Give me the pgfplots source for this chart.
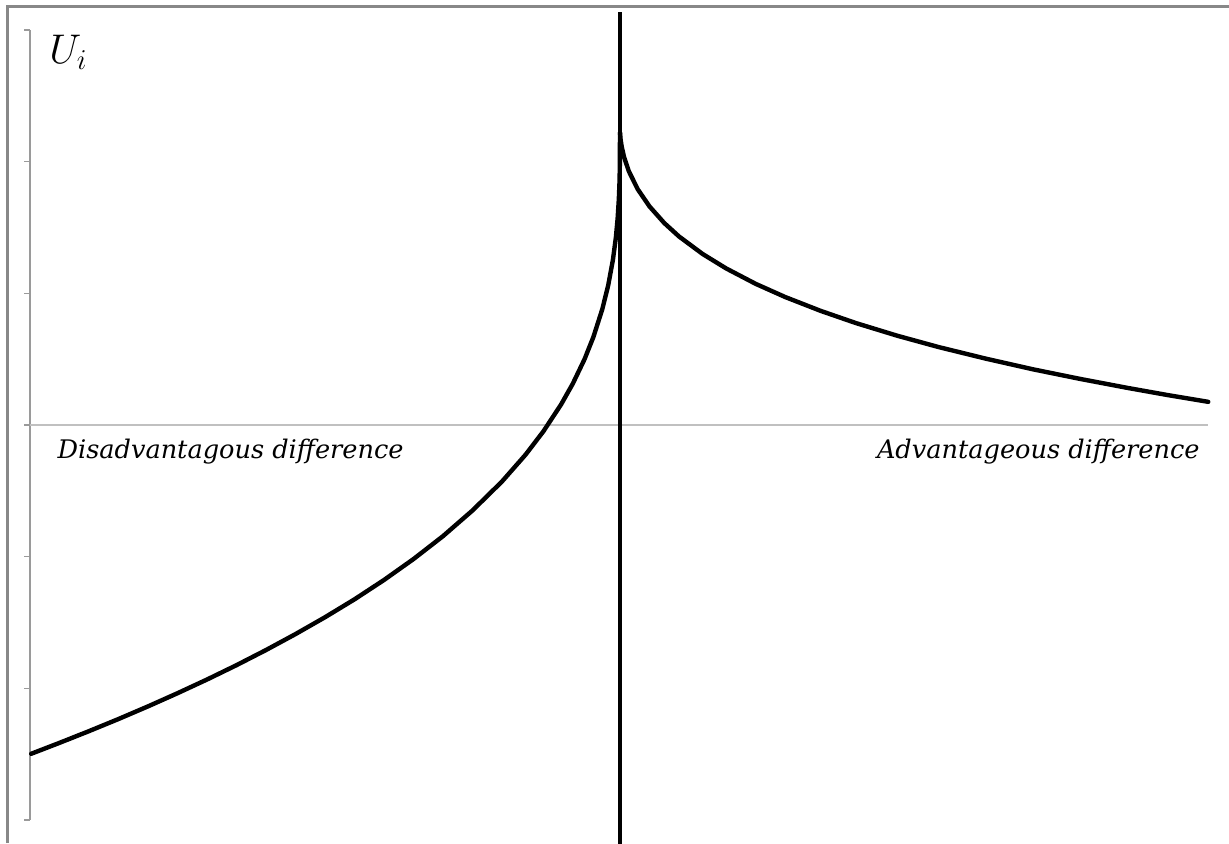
\documentclass[border=0pt]{standalone}
\usepackage{fontspec}
\setmainfont{DejaVu Serif}
\usepackage{pgfplots}
\pgfplotsset{compat=1.18}
\usepackage{pgfplotstable}

\definecolor{framegray}{HTML}{888888}
\definecolor{axisgray}{HTML}{9A9A9A}
\definecolor{zerogray}{HTML}{C0C0C0}

% utility for a disadvantageous difference (x < 0)
\pgfplotstableread{
x         u
-0.998   -2.497
-0.95    -2.414
-0.90    -2.325
-0.85    -2.233
-0.80    -2.137
-0.75    -2.037
-0.70    -1.933
-0.65    -1.824
-0.60    -1.709
-0.55    -1.588
-0.50    -1.460
-0.45    -1.324
-0.40    -1.177
-0.35    -1.018
-0.30    -0.844
-0.25    -0.649
-0.20    -0.429
-0.16    -0.225
-0.13    -0.049
-0.10     0.155
-0.08     0.314
-0.06     0.501
-0.045    0.670
-0.03     0.880
-0.02     1.061
-0.012    1.255
-0.007    1.425
-0.004    1.570
-0.002    1.713
-0.001    1.825
-0.0004   1.935
 0.000    2.220
}\disadv

% utility for an advantageous difference (x > 0)
\pgfplotstableread{
x        u
0.000    2.220
0.001    2.168
0.003    2.111
0.007    2.033
0.015    1.927
0.030    1.791
0.050    1.660
0.075    1.534
0.100    1.432
0.140    1.299
0.180    1.189
0.230    1.072
0.280    0.972
0.340    0.867
0.400    0.774
0.470    0.678
0.540    0.592
0.620    0.504
0.700    0.423
0.780    0.350
0.860    0.282
0.930    0.226
0.997    0.176
}\adv

\begin{document}
\begin{tikzpicture}[x=1pt,y=1pt]
\useasboundingbox (0,0) rectangle (614.5,421.5);
% frame
\draw[framegray,line width=1.2pt] (3.8,0) -- (3.8,418.2) -- (614.5,418.2);
\begin{axis}[
  at={(15pt,11.5pt)}, anchor=south west,
  scale only axis, width=590pt, height=395pt,
  xmin=-1, xmax=1, ymin=-3, ymax=3,
  clip=false,
  axis x line=none,
  axis y line=left,
  axis line style={-, axisgray, line width=0.7pt},
  ytick={-3,-2,-1,0,1,2,3},
  yticklabels={},
  xtick=\empty,
  tick align=outside,
  major tick length=3pt,
  every tick/.style={axisgray, line width=0.7pt},
]
\addplot[zerogray, line width=0.7pt] coordinates {(-1,0) (0.997,0)};
\addplot[black, line width=2pt] coordinates {(0,3.136) (0,-3.18)};
\addplot[black, line width=2.2pt, line join=round, line cap=round] table[x=x,y=u] {\disadv};
\addplot[black, line width=2.2pt, line join=round, line cap=round] table[x=x,y=u] {\adv};
\node[anchor=base west, inner sep=0pt, font=\fontsize{21}{22}\selectfont] at (axis cs:-0.968,2.749) {$U_i$};
\node[anchor=base west, inner sep=0pt, font=\fontsize{12.8}{14}\selectfont\itshape] at (axis cs:-0.954,-0.251) {Disadvantagous difference};
\node[anchor=base east, inner sep=0pt, font=\fontsize{12.8}{14}\selectfont\itshape] at (axis cs:0.983,-0.251) {Advantageous difference};
\end{axis}
\end{tikzpicture}
\end{document}
